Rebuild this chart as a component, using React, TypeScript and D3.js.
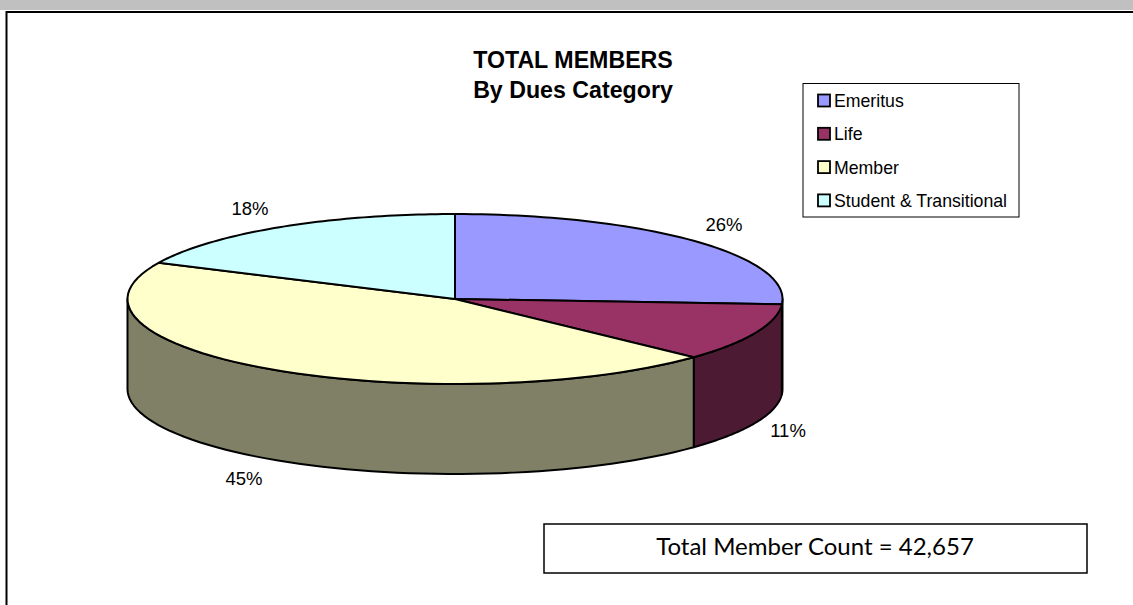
import React from "react"
import * as d3 from "d3"

// total members split by dues category, drawn as a tilted 3D pie
const categories = ["Emeritus", "Life", "Member", "Student & Transitional"]
const shares = [26, 11, 45, 18]
const topColors = ["#9999ff", "#993366", "#ffffcc", "#ccffff"]
const sideColors = ["#4d4d80", "#4d1a33", "#808066", "#668080"]
const labelSpots = [
  [724, 225],
  [788, 431],
  [244, 479],
  [250, 209],
]
const titleLines = ["TOTAL MEMBERS", "By Dues Category"]
const countNote = "Total Member Count = 42,657"

const cx = 455
const cy = 299
const rx = 327.5
const ry = 85
const depth = 90

const project = (a: number, drop = 0): [number, number] => [
  cx + rx * Math.sin(a),
  cy - ry * Math.cos(a) + drop,
]

const arcPoints = (start: number, end: number, drop = 0) =>
  d3.range(0, 61).map(i => project(start + ((end - start) * i) / 60, drop))

const line = d3.line()

function App() {
  const slices = d3.pie<number>().sort(null).value(d => d)(shares)

  const fontSans = "'Liberation Sans', Arial, sans-serif"

  return (
    <svg
      width={1133}
      height={605}
      style={{ position: "fixed", left: 0, top: 0, background: "#fff" }}
    >
      <rect x={0} y={0} width={1133} height={605} fill="#fff" />
      <rect x={0} y={0} width={1133} height={10} fill="#c0c0c0" />
      <path d="M6.5,605V12H1133" fill="none" stroke="#000" strokeWidth={2} />

      {/* side walls first, only the front half of the rim shows */}
      {slices.map((s, i) => {
        const start = Math.max(s.startAngle, Math.PI / 2)
        const end = Math.min(s.endAngle, (3 * Math.PI) / 2)
        if (end <= start) return null
        const pts = [...arcPoints(start, end), ...arcPoints(start, end, depth).reverse()]
        return (
          <path
            key={i}
            d={line(pts) + "Z"}
            fill={sideColors[i]}
            stroke="#000"
            strokeWidth={2}
            strokeLinejoin="round"
          />
        )
      })}

      {slices.map((s, i) => {
        const pts = [[cx, cy] as [number, number], ...arcPoints(s.startAngle, s.endAngle)]
        return (
          <path
            key={i}
            d={line(pts) + "Z"}
            fill={topColors[i]}
            stroke="#000"
            strokeWidth={2}
            strokeLinejoin="round"
          />
        )
      })}

      {shares.map((v, i) => (
        <text
          key={i}
          x={labelSpots[i][0]}
          y={labelSpots[i][1]}
          dy="0.35em"
          textAnchor="middle"
          fontFamily={fontSans}
          fontSize={18.5}
          fill="#000"
        >
          {v}%
        </text>
      ))}

      {titleLines.map((t, i) => (
        <text
          key={t}
          x={573}
          y={68 + i * 30}
          textAnchor="middle"
          fontFamily={fontSans}
          fontSize={23.2}
          fontWeight="bold"
          fill="#000"
        >
          {t}
        </text>
      ))}

      <rect x={803} y={83.5} width={216} height={133.5} fill="#fff" stroke="#000" strokeWidth={1} />
      {categories.map((c, i) => (
        <g key={c} transform={`translate(818,${94.5 + i * 33.3})`}>
          <rect x={0} y={0} width={12} height={12} fill={topColors[i]} stroke="#000" strokeWidth={1.8} />
          <text x={16} y={12.5} fontFamily={fontSans} fontSize={17.7} fill="#000">
            {c}
          </text>
        </g>
      ))}

      <rect x={544} y={524} width={543} height={49} fill="#fff" stroke="#000" strokeWidth={1.5} />
      <text
        x={815}
        y={555}
        textAnchor="middle"
        fontFamily="Lato, 'Open Sans', sans-serif"
        fontSize={24}
        fill="#000"
      >
        {countNote}
      </text>
    </svg>
  )
}

export default App
